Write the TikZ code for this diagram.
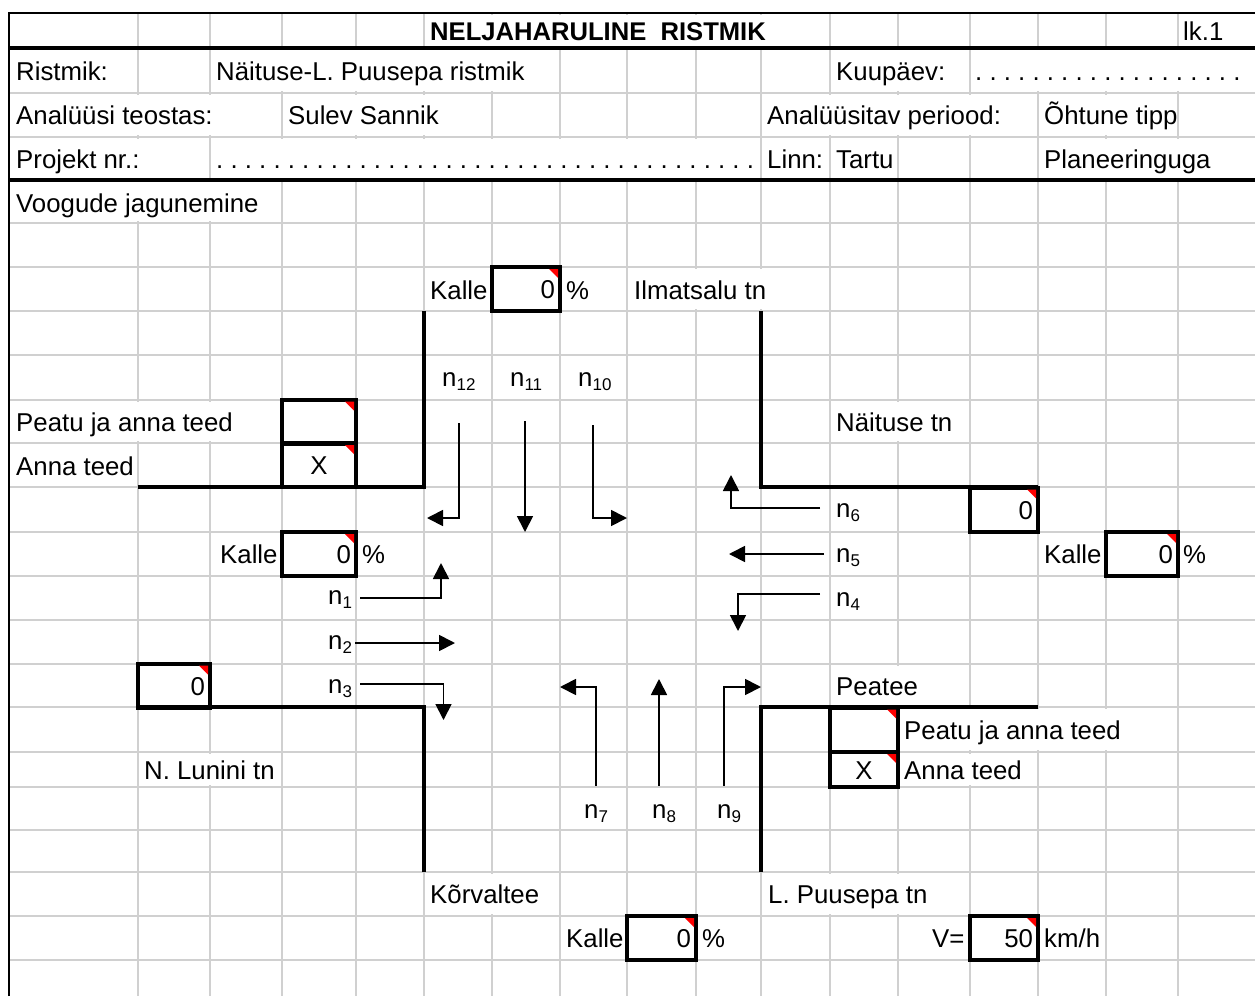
\documentclass[tikz,border=0pt]{standalone}
\usepackage{fontspec}
\setmainfont{Liberation Sans}
\usetikzlibrary{arrows.meta}
\definecolor{gridgray}{RGB}{208,208,208}
\newcommand{\cellfont}{\fontsize{25.8}{30}\selectfont}
\newcommand{\flowname}[1]{n\raisebox{-4.5pt}{\fontsize{17}{20}\selectfont #1}}
\tikzset{
	gridline/.style={draw=gridgray,line width=2pt},
	gridgap/.style={draw=white,line width=3pt},
	frameline/.style={draw=black,line width=2.2pt},
	headline/.style={draw=black,line width=4pt},
	roadline/.style={draw=black,line width=4pt,line cap=square,line join=miter},
	celltext/.style={anchor=base west,inner sep=0pt,font=\cellfont},
	flowlabel/.style={celltext,text height=18pt,text depth=6pt},
	valbox/.style={draw=black,line width=4pt,inner xsep=5pt,inner ysep=0pt,outer sep=0pt,
		minimum height=44pt,text width=#1pt,text height=19pt,text depth=0pt,align=right,font=\cellfont},
	flowline/.style={draw=black,line width=1.8pt,line join=miter,-{Triangle[length=16pt,width=16pt]}},
	cornermark/.style={fill=red}
}
\begin{document}
\begin{tikzpicture}[x=1pt,y=-1pt]
	\useasboundingbox (0,0) rectangle (1255,996);
	\fill[white] (0,0) rectangle (1255,996);
	% grid
	\foreach \gy in {93,137,223,267,311,355,400,443,487,532,576,620,664,707,752,787,830,872,916,960}
		\draw[gridline] (9,\gy) -- (1255,\gy);
	\foreach \gx in {138,210,282,356,424,492,560,627,696,761,830,898,970,1038,1106,1178}
		\draw[gridline] (\gx,13) -- (\gx,996);
	% lines hidden by overflowing text
	\foreach \gx/\ya/\yb in {492/13/48,560/13/48,627/13/48,696/13/48,761/13/48,
		282/48/93,356/48/93,424/48/93,492/48/93,898/48/93,1038/48/93,1106/48/93,1178/48/93,
		138/93/137,210/93/137,356/93/137,424/93/137,830/93/137,898/93/137,970/93/137,1106/93/137,
		138/137/180,282/137/180,356/137/180,424/137/180,492/137/180,560/137/180,627/137/180,696/137/180,1106/137/180,1178/137/180,
		138/180/223,210/180/223,696/267/311,761/267/311,
		138/400/443,210/400/443,898/400/443,898/664/707,
		970/707/752,1038/707/752,1106/707/752,210/752/787,970/752/787,
		492/872/916,830/872/916,898/872/916}
		\draw[gridgap] (\gx,\ya+2) -- (\gx,\yb-2);
	% frame
	\draw[frameline] (9,996) -- (9,13) -- (1255,13);
	\draw[headline] (9,48) -- (1255,48);
	\draw[headline] (9,180) -- (1255,180);
	% road edges
	\draw[roadline] (138,487) -- (424,487) -- (424,311);
	\draw[roadline] (761,311) -- (761,487) -- (1038,487);
	\draw[roadline] (138,707) -- (424,707) -- (424,872);
	\draw[roadline] (1038,707) -- (761,707) -- (761,872);
	% boxes
	\node[valbox=58] (topslope) at (526,289) {0};
	\node[valbox=64,align=center] (stopw) at (319,421.5) {};
	\node[valbox=64,align=center] (yieldw) at (319,465) {X};
	\node[valbox=64] (leftslope) at (319,554) {0};
	\node[valbox=58] (neroad) at (1004,509.5) {0};
	\node[valbox=62] (rightslope) at (1142,554) {0};
	\node[valbox=62] (swroad) at (174,685.5) {0};
	\node[valbox=58,align=center] (stope) at (864,729.5) {};
	\node[valbox=58,align=center,minimum height=35pt] (yielde) at (864,769.5) {X};
	\node[valbox=59] (bottomslope) at (661.5,938) {0};
	\node[valbox=58] (speed) at (1004,938) {50};
	\foreach \b in {topslope,stopw,yieldw,leftslope,neroad,rightslope,swroad,stope,yielde,bottomslope,speed}
		\fill[cornermark] ([xshift=-2pt,yshift=-2pt]\b.north east) -- ++(-9,0) -- ++(9,9) -- cycle;
	% header
	\node[celltext,font=\fontsize{25.6}{30}\selectfont\bfseries] (title) at (430,40) {NELJAHARULINE\ \ RISTMIK};
	\node[celltext] (page) at (1183,40) {lk.1};
	\node[celltext] (xname) at (16,80) {Ristmik:};
	\node[celltext] (xvalue) at (216,80) {Näituse-L. Puusepa ristmik};
	\node[celltext] (dname) at (836,80) {Kuupäev:};
	\node[celltext] (dvalue) at (975,80) {\frenchspacing . . . . . . . . . . . . . . . . . . .};
	\node[celltext] (aname) at (16,124) {Analüüsi teostas:};
	\node[celltext] (avalue) at (288,124) {Sulev Sannik};
	\node[celltext] (pname) at (767,124) {Analüüsitav periood:};
	\node[celltext] (pvalue) at (1044,124) {Õhtune tipp};
	\node[celltext] (nname) at (16,168) {Projekt nr.:};
	\node[celltext] (nvalue) at (216,168) {\frenchspacing . . . . . . . . . . . . . . . . . . . . . . . . . . . . . . . . . . . . . .};
	\node[celltext] (cname) at (767,168) {Linn:};
	\node[celltext] (cvalue) at (836,168) {Tartu};
	\node[celltext] (plan) at (1044,168) {Planeeringuga};
	\node[celltext] (split) at (16,212) {Voogude jagunemine};
	% texts round the crossing
	\node[celltext] (kalletop) at (430,299) {Kalle};
	\node[celltext] (pcttop) at (566,299) {\%};
	\node[celltext] (north) at (634,299) {Ilmatsalu tn};
	\node[celltext] (east) at (836,431) {Näituse tn};
	\node[celltext] (stopwtext) at (16,431) {Peatu ja anna teed};
	\node[celltext] (yieldwtext) at (16,475) {Anna teed};
	\node[celltext] (kalleleft) at (220,563) {Kalle};
	\node[celltext] (pctleft) at (362,563) {\%};
	\node[celltext] (kalleright) at (1044,563) {Kalle};
	\node[celltext] (pctright) at (1183,563) {\%};
	\node[celltext] (main) at (836,695) {Peatee};
	\node[celltext] (stopetext) at (904,739) {Peatu ja anna teed};
	\node[celltext] (yieldetext) at (904,779) {Anna teed};
	\node[celltext] (west) at (144,779) {N. Lunini tn};
	\node[celltext] (minor) at (430,903) {Kõrvaltee};
	\node[celltext] (south) at (768,903) {L. Puusepa tn};
	\node[celltext] (kallebottom) at (566,947) {Kalle};
	\node[celltext] (pctbottom) at (702,947) {\%};
	\node[celltext] (vname) at (932,947) {V=};
	\node[celltext] (kmh) at (1044,947) {km/h};
	% flow labels
	\node[flowlabel] (n1) at (328,604) {\flowname{1}};
	\node[flowlabel] (n2) at (328,649) {\flowname{2}};
	\node[flowlabel] (n3) at (328,693) {\flowname{3}};
	\node[flowlabel] (n4) at (836,606) {\flowname{4}};
	\node[flowlabel] (n5) at (836,562) {\flowname{5}};
	\node[flowlabel] (n6) at (836,517) {\flowname{6}};
	\node[flowlabel] (n7) at (584,818) {\flowname{7}};
	\node[flowlabel] (n8) at (652,818) {\flowname{8}};
	\node[flowlabel] (n9) at (717,818) {\flowname{9}};
	\node[flowlabel] (n10) at (578,386) {\flowname{10}};
	\node[flowlabel] (n11) at (510,386) {\flowname{11}};
	\node[flowlabel] (n12) at (442,386) {\flowname{12}};
	% flow arrows
	\coordinate (t1) at (441,563);
	\coordinate (t2) at (455,643);
	\coordinate (t3) at (443.5,720);
	\coordinate (t4) at (738,631);
	\coordinate (t5) at (729,554);
	\coordinate (t6) at (731,475);
	\coordinate (t7) at (560,687);
	\coordinate (t8) at (659,679);
	\coordinate (t9) at (761,687);
	\coordinate (t10) at (627,518);
	\coordinate (t11) at (525,532);
	\coordinate (t12) at (427,518);
	\draw[flowline] ([xshift=8pt]n1.east) -| (t1);
	\draw[flowline] ([xshift=3pt]n2.east |- t2) -- (t2);
	\draw[flowline] ([xshift=8pt,yshift=3pt]n3.east) -| (t3);
	\draw[flowline] ([xshift=-16pt,yshift=6pt]n4.west) -| (t4);
	\draw[flowline] ([xshift=-12pt]n5.west |- t5) -- (t5);
	\draw[flowline] ([xshift=-16pt,yshift=3pt]n6.west) -| (t6);
	\draw[flowline] ([yshift=14pt]n7.north) |- (t7);
	\draw[flowline,shorten <=14pt] (t8 |- n8.north) -- (t8);
	\draw[flowline] ([xshift=-5pt,yshift=14pt]n9.north) |- (t9);
	\draw[flowline] ([xshift=-2pt,yshift=-33pt]n10.south) |- (t10);
	\draw[flowline,shorten <=29pt] (t11 |- n11.south) -- (t11);
	\draw[flowline] ([yshift=-31pt]n12.south) |- (t12);
\end{tikzpicture}
\end{document}
